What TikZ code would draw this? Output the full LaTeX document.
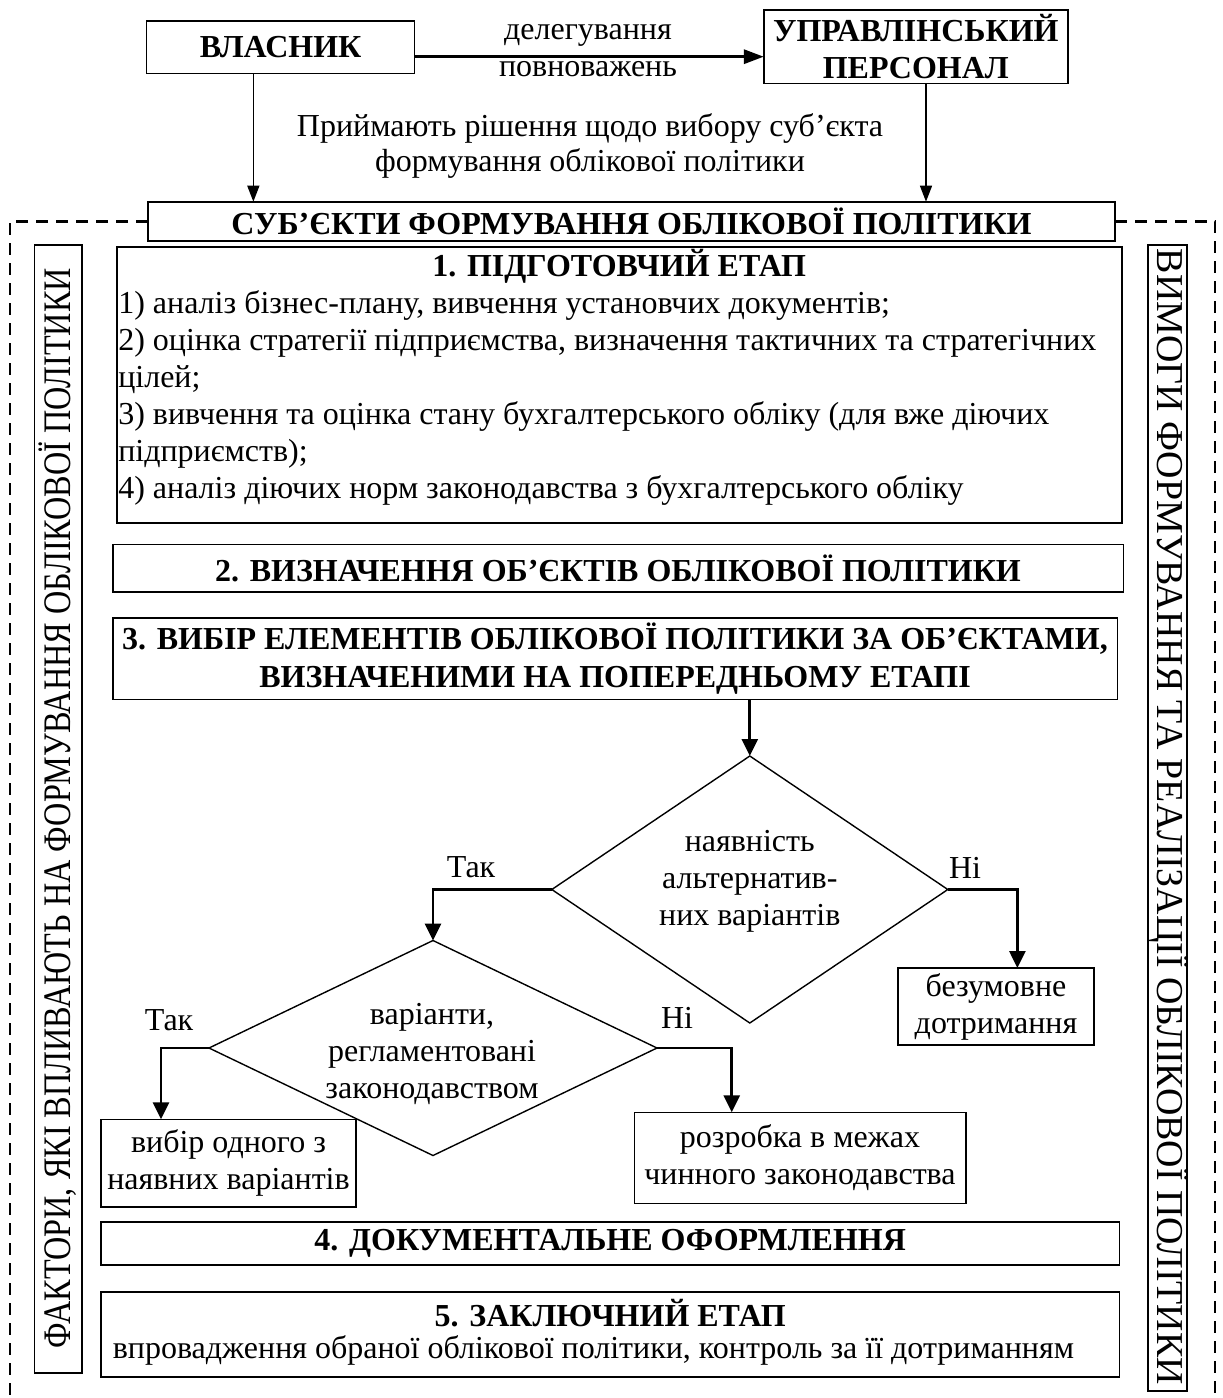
\documentclass[tikz,border=0pt]{standalone}
\usepackage{fontspec}
\setmainfont{Liberation Serif}
\usetikzlibrary{arrows.meta,shapes.geometric}
\begin{document}
\begin{tikzpicture}[x=0.5pt,y=-0.5pt,
  every node/.style={inner sep=0pt,outer sep=0pt,font=\fontsize{16}{18.5}\selectfont},
  box/.style={draw,line width=0.8pt,align=center},
  bbox/.style={box,font=\fontsize{16}{18.5}\selectfont\bfseries},
  btitle/.style={font=\fontsize{16}{18.5}\selectfont\bfseries},
  dia/.style={draw,diamond,line width=0.7pt,inner sep=0pt},
  lbl/.style={align=center},
  farr/.style={line width=1.4pt,-{Triangle[length=8.5pt,width=8pt]}},
  tarr/.style={line width=0.7pt,-{Triangle[length=8pt,width=6pt]}},
  darr/.style={line width=1.6pt,-{Triangle[length=10pt,width=7pt]}},
  dline/.style={line width=1.2pt,dash pattern=on 6pt off 4pt}
]
\useasboundingbox (0,0) rectangle (1222,1398);

% top
\node[box,minimum width=134pt,minimum height=26.3pt,font=\fontsize{16}{18.5}\selectfont\bfseries] (own) at (280.55,47) {ВЛАСНИК};
\node[bbox,minimum width=152pt,minimum height=36.65pt] (mgr) at (915.8,46.65) {УПРАВЛІНСЬКИЙ\\ПЕРСОНАЛ};
\node[lbl] (del) at (588,51) {делегування\\повноважень};
\node[lbl,font=\fontsize{16}{17.5}\selectfont] (dec) at (590,146) {Приймають рішення щодо вибору суб’єкта\\формування облікової політики};
\node[bbox,minimum width=483.5pt,minimum height=19.65pt] (sub) at (631.5,221.35) {СУБ’ЄКТИ ФОРМУВАННЯ ОБЛІКОВОЇ ПОЛІТИКИ};

\draw[darr] ([yshift=-4.85pt]own.east) -- ([yshift=-4.85pt]own.east -| mgr.west);
\draw[tarr] ([xshift=-13.6pt]own.south) -- ([xshift=-13.6pt]own.south |- sub.north);
\draw[tarr] ([xshift=5.1pt]mgr.south) -- ([xshift=5.1pt]mgr.south |- sub.north);

% dashed frame
\draw[dline] (sub.west) -| (10,1398);
\draw[dline] (sub.east) -| (1215,1398);

% side boxes
\node[box,minimum width=23.6pt,minimum height=563.85pt] (lbox) at (58.1,808.85) {};
\node[rotate=90,anchor=base] (ltxt) at (70.5,808) {\resizebox{540pt}{\height}{\fontsize{19.5}{20}\selectfont ФАКТОРИ, ЯКІ ВПЛИВАЮТЬ НА ФОРМУВАННЯ ОБЛІКОВОЇ ПОЛІТИКИ}};
\node[box,minimum width=19.5pt,minimum height=572.85pt] (rbox) at (1167.5,817.85) {};
\node[rotate=-90,anchor=base] (rtxt) at (1157,817) {\resizebox{568pt}{\height}{\fontsize{19}{20}\selectfont ВИМОГИ ФОРМУВАННЯ ТА РЕАЛІЗАЦІЇ ОБЛІКОВОЇ ПОЛІТИКИ}};

% stage 1
\node[box,minimum width=502.5pt,minimum height=138pt] (b1) at (619.2,384.7) {};
\node[btitle] (b1t) at (619.2,266.7) {1. ПІДГОТОВЧИЙ ЕТАП};
\node[anchor=north west,align=left] (b1b) at (118.3,291) {1) аналіз бізнес-плану, вивчення установчих документів;\\
2) оцінка стратегії підприємства, визначення тактичних та стратегічних\\
цілей;\\
3) вивчення та оцінка стану бухгалтерського обліку (для вже діючих\\
підприємств);\\
4) аналіз діючих норм законодавства з бухгалтерського обліку};

% stage 2, 3
\node[bbox,minimum width=505.3pt,minimum height=23.7pt] (b2) at (618,568) {2. ВИЗНАЧЕННЯ ОБ’ЄКТІВ ОБЛІКОВОЇ ПОЛІТИКИ};
\node[bbox,minimum width=502.3pt,minimum height=40.8pt,font=\fontsize{16}{19.3}\selectfont\bfseries] (b3) at (615,658.5) {3. ВИБІР ЕЛЕМЕНТІВ ОБЛІКОВОЇ ПОЛІТИКИ ЗА ОБ’ЄКТАМИ,\\ВИЗНАЧЕНИМИ НА ПОПЕРЕДНЬОМУ ЕТАПІ};

% decisions
\node[dia,minimum width=198pt,minimum height=133.5pt] (d1) at (749.8,889.5) {};
\node[lbl] (d1t) at (749.8,881) {наявність\\альтернатив-\\них варіантів};
\node[dia,minimum width=224pt,minimum height=107.5pt] (d2) at (433,1048) {};
\node[lbl] (d2t) at (432,1054) {варіанти,\\регламентовані\\законодавством};

\node[box,minimum width=98pt,minimum height=38.5pt] (bz) at (996,1006.5) {безумовне\\дотримання};
\node[box,minimum width=127.5pt,minimum height=43.7pt] (vb) at (228.5,1163) {вибір одного з\\наявних варіантів};
\node[box,minimum width=165.7pt,minimum height=45.5pt] (rz) at (800,1157.8) {розробка в межах\\чинного законодавства};

\node (yes1) at (471,866.7) {Так};
\node (no1) at (965,868) {Ні};
\node (yes2) at (169,1020) {Так};
\node (no2) at (677,1018) {Ні};

\draw[farr] (b3.south -| d1.north) -- (d1.north);
\draw[farr] (d1.west) -| (d2.north);
\draw[farr] (d1.east) -| ([xshift=10.7pt]bz.north);
\draw[farr] (d2.west) -| ([xshift=-33.75pt]vb.north);
\draw[farr] (d2.east) -| ([xshift=-34.15pt]rz.north);

% stages 4, 5
\node[bbox,minimum width=509.15pt,minimum height=21.5pt] (b4) at (610.2,1243.5) {4. ДОКУМЕНТАЛЬНЕ ОФОРМЛЕННЯ};
\node[box,minimum width=509.15pt,minimum height=42.35pt] (b5) at (610.2,1334.35) {};
\node[btitle] (b5t) at (610.2,1313) {5. ЗАКЛЮЧНИЙ ЕТАП};
\node (b5b) at (593.4,1350) {впровадження обраної облікової політики, контроль за її дотриманням};
\end{tikzpicture}
\end{document}
